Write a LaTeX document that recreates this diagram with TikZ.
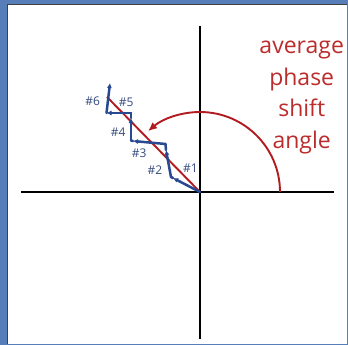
\documentclass[tikz,border=0pt]{standalone}
\usepackage{fontspec}
\setmainfont{Open Sans}
\usetikzlibrary{arrows.meta}
\definecolor{frameblue}{RGB}{88,126,186}
\definecolor{vecblue}{RGB}{40,72,145}
\definecolor{lblblue}{RGB}{52,74,125}
\definecolor{arcred}{RGB}{178,28,32}
\definecolor{txtred}{RGB}{188,44,44}
\tikzset{
  axis/.style={line width=2.5pt, black},
  vec/.style={line width=2.5pt, vecblue, line cap=round, line join=round,
    -{Latex[length=5pt,width=5pt]}},
  vseg/.style={line width=2.5pt, vecblue, line cap=round, line join=round},
  lbl/.style={font=\fontsize{12}{14}\selectfont, text=lblblue, inner sep=0pt},
  redline/.style={line width=1.9pt, arcred},
}
\begin{document}
\begin{tikzpicture}[x=1pt,y=-1pt]
\useasboundingbox (0,0) rectangle (348,345);
\fill[frameblue] (0,0) rectangle (348,345);
\fill[white] (7,4) rectangle (346.5,343.5);
\draw[black!75, line width=0.8pt] (7,343.5) -- (7,4) -- (346.5,4);
% axes
\coordinate (O) at (200,192);
\coordinate (xl) at (21,192);
\coordinate (xr) at (334,192);
\coordinate (yt) at (200,26);
\coordinate (yb) at (200,339);
\draw[axis] (xl) -- (xr);
\draw[axis] (yt) -- (yb);
% average line
\coordinate (avg) at (107,97);
\draw[redline] (O) -- (avg);
% vectors
\coordinate (p1) at (173,178);
\coordinate (q1) at (171,177);
\coordinate (p2) at (166,150);
\coordinate (q2) at (165.5,144);
\coordinate (p3) at (133,141);
\coordinate (q3) at (131,140.5);
\coordinate (p4) at (131,118);
\coordinate (q4) at (131,113);
\coordinate (p5) at (106.5,113);
\coordinate (p6) at (110,83);
\draw[vec] (O) -- (p1);
\draw[vseg] (p1) -- (q1);
\draw[vec] (q1) -- (p2);
\draw[vseg] (p2) -- (q2);
\draw[vec] (q2) -- (p3);
\draw[vseg] (p3) -- (q3);
\draw[vec] (q3) -- (p4);
\draw[vseg] (p4) -- (q4);
\draw[vec] (q4) -- (p5);
\draw[vec] (p5) -- (p6);
% labels
\node[lbl] (l1) at (190.5,168.3) {\#1};
\node[lbl] (l2) at (155,170) {\#2};
\node[lbl] (l3) at (139.3,153.3) {\#3};
\node[lbl] (l4) at (118.3,131.7) {\#4};
\node[lbl] (l5) at (126.3,101.8) {\#5};
\node[lbl] (l6) at (92.8,100.8) {\#6};
% angle arc
\coordinate (arcstart) at (280,192);
\draw[redline, -{Latex[length=9pt,width=8pt]}]
  (arcstart) arc[start angle=0, end angle=-130.5, radius=80];
% text
\node[font=\fontsize{23}{31.5}\selectfont, text=txtred, align=center, inner sep=0pt]
  (title) at (301.7,97.5) {average\\phase\\shift\\angle};
\end{tikzpicture}
\end{document}
